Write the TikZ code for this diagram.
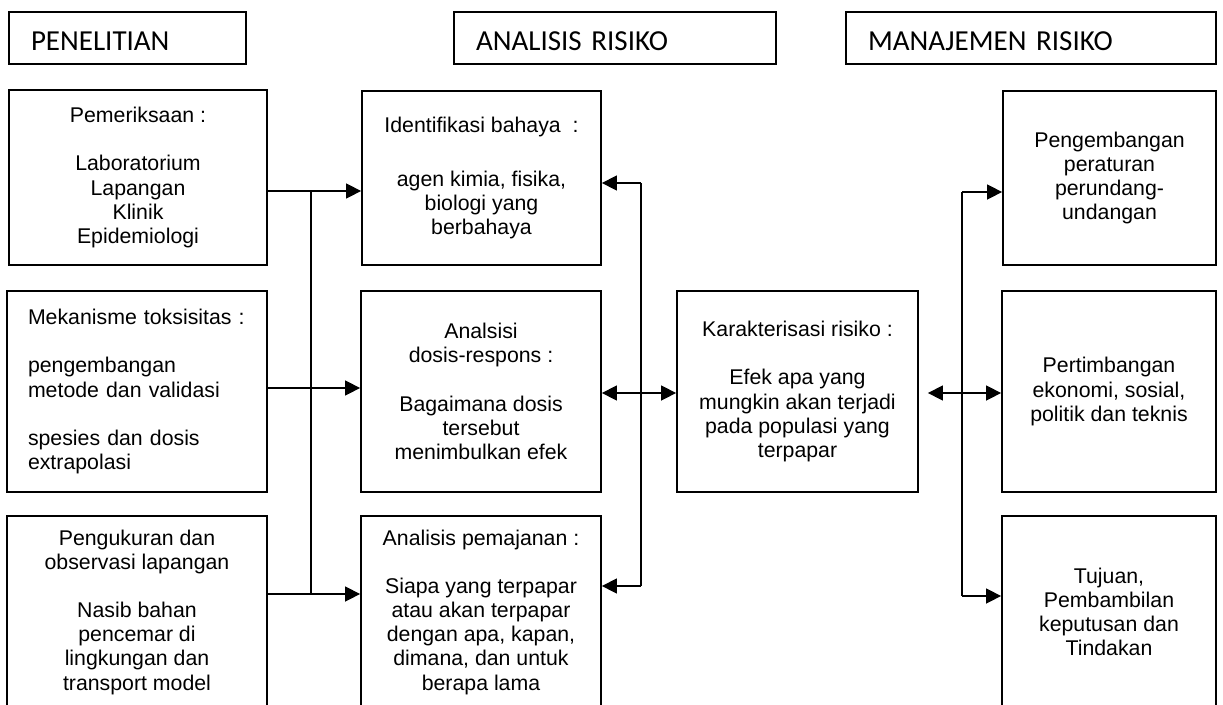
\documentclass[tikz,border=0pt]{standalone}
\usepackage{fontspec}
\setmainfont{Liberation Sans}
\newfontfamily\hdrfont{Carlito}
\usetikzlibrary{arrows.meta}
\begin{document}
\begin{tikzpicture}[x=1pt,y=-1pt,
  box/.style={draw,line width=1.8pt,rectangle,inner sep=0pt,align=center,
    font=\fontsize{21.3}{24.2}\selectfont},
  hdr/.style={draw,line width=1.8pt,rectangle,inner xsep=22pt,inner ysep=0pt,
    align=left,text height=24pt,text depth=0pt,
    font=\hdrfont\fontsize{29}{32}\selectfont},
  conn/.style={line width=1.5pt},
  arr/.style={conn,-{Triangle[length=15pt,width=15pt]}},
  darr/.style={conn,{Triangle[length=15pt,width=15pt]}-{Triangle[length=15pt,width=15pt]}}]
\useasboundingbox[fill=white] (0,0) rectangle (1223,704);
\begin{scope}
\clip (-5,-5) rectangle (1228,704);
% headers
\node[hdr,text width=193pt,minimum height=52pt] (h1) at (127.5,38) {PENELITIAN};
\node[hdr,text width=278pt,minimum height=52pt] (h2) at (615,38) {ANALISIS RISIKO};
\node[hdr,text width=326pt,minimum height=52pt] (h3) at (1031,38) {MANAJEMEN RISIKO};
% column 1
\node[box,minimum width=258pt,minimum height=175pt] (pem) at (138,177.5)
  {Pemeriksaan :\\[24pt]Laboratorium\\Lapangan\\Klinik\\Epidemiologi};
\node[box,align=left,text width=218pt,inner xsep=21pt,minimum height=201pt] (mek) at (137,391.5)
  {Mekanisme toksisitas :\\[24pt]pengembangan\\metode dan validasi\\[24pt]spesies dan dosis\\extrapolasi};
\node[box,minimum width=260pt,minimum height=192pt] (ukur) at (137,612)
  {Pengukuran dan\\observasi lapangan\\[24pt]Nasib bahan\\pencemar di\\lingkungan dan\\transport model};
% column 2
\node[box,minimum width=239pt,minimum height=174pt] (ident) at (481.5,178)
  {Identifikasi bahaya~~:\\[30pt]agen kimia, fisika,\\biologi yang\\berbahaya};
\node[box,minimum width=240pt,minimum height=201pt] (dosis) at (481,391.5)
  {Analsisi\\dosis-respons :\\[24pt]Bagaimana dosis\\tersebut\\menimbulkan efek};
\node[box,minimum width=240pt,minimum height=192pt] (pemaj) at (481,612)
  {Analisis pemajanan :\\[24pt]Siapa yang terpapar\\atau akan terpapar\\dengan apa, kapan,\\dimana, dan untuk\\berapa lama};
% column 3
\node[box,minimum width=241pt,minimum height=201pt] (kar) at (797.5,391.5)
  {Karakterisasi risiko :\\[24pt]Efek apa yang\\mungkin akan terjadi\\pada populasi yang\\terpapar};
% column 4
\node[box,minimum width=213pt,minimum height=174pt] (peng) at (1109.5,178)
  {Pengembangan\\peraturan\\perundang-\\undangan};
\node[box,minimum width=214pt,minimum height=201pt] (pert) at (1109,391.5)
  {Pertimbangan\\ekonomi, sosial,\\politik dan teknis};
\node[box,minimum width=214pt,minimum height=192pt] (tuj) at (1109,612)
  {Tujuan,\\Pembambilan\\keputusan dan\\Tindakan};
% left bus
\coordinate (b1) at (311,191);
\coordinate (b2) at (311,388);
\coordinate (b3) at (311,594);
\draw[conn] (pem.east |- b1) -- (b1);
\draw[arr] (b1) -- (ident.west |- b1);
\draw[arr] (mek.east |- b2) -- (dosis.west |- b2);
\draw[conn] (ukur.east |- b3) -- (b3);
\draw[arr] (b3) -- (pemaj.west |- b3);
\draw[conn] (b1) -- (b3);
% middle bus
\coordinate (c1) at (641,183);
\coordinate (c2) at (641,586);
\coordinate (c3) at (641,393);
\draw[arr] (c1) -- (ident.east |- c1);
\draw[conn] (c1) -- (c2);
\draw[arr] (c2) -- (pemaj.east |- c2);
\draw[darr] (dosis.east |- c3) -- (kar.west |- c3);
% right bus
\coordinate (d1) at (962,192);
\coordinate (d2) at (962,596);
\coordinate (d3) at (962,393);
\draw[arr] (d1) -- (peng.west |- d1);
\draw[conn] (d1) -- (d2);
\draw[arr] (d2) -- (tuj.west |- d2);
\draw[darr] ([xshift=9pt]kar.east |- d3) -- (pert.west |- d3);
\end{scope}
\end{tikzpicture}
\end{document}
